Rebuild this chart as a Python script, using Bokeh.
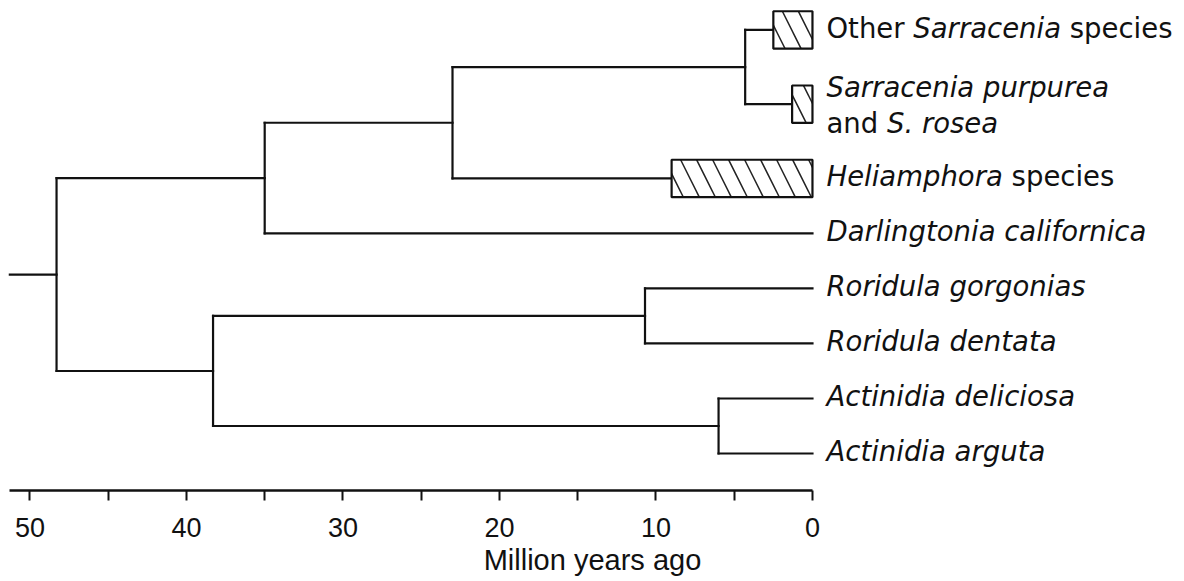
from bokeh.plotting import figure
from bokeh.models import Range1d, FixedTicker
from bokeh.core.properties import value
from bokeh.embed import file_html
from bokeh.resources import INLINE

# ---------------- data ----------------
node_names = ["root", "core", "sar_hel", "sarracenia", "lower", "roridula", "actinidia"]
node_ages = [48.3, 35.0, 23.0, 4.3, 38.3, 10.7, 6.0]
node_parent = [None, "root", "core", "sar_hel", "root", "lower", "lower"]
root_stem_age = 51.3

leaf_names = ["Other Sarracenia species", "Sarracenia purpurea and S. rosea",
              "Heliamphora species", "Darlingtonia californica",
              "Roridula gorgonias", "Roridula dentata",
              "Actinidia deliciosa", "Actinidia arguta"]
leaf_parent = ["sarracenia", "sarracenia", "sar_hel", "core",
               "roridula", "roridula", "actinidia", "actinidia"]
leaf_rows = [7.7, 6.35, 5.0, 4.0, 3.0, 2.0, 1.0, 0.0]
leaf_crown_age = [2.5, 1.3, 9.0, 0.0, 0.0, 0.0, 0.0, 0.0]  # hatched crown boxes

# label pieces: (text, style, line)
label_parts = [
    [("Other ", "normal", 0), ("Sarracenia", "italic", 0), (" species", "normal", 0)],
    [("Sarracenia purpurea", "italic", 0), ("and ", "normal", 1), ("S. rosea", "italic", 1)],
    [("Heliamphora", "italic", 0), (" species", "normal", 0)],
    [("Darlingtonia californica", "italic", 0)],
    [("Roridula gorgonias", "italic", 0)],
    [("Roridula dentata", "italic", 0)],
    [("Actinidia deliciosa", "italic", 0)],
    [("Actinidia arguta", "italic", 0)],
]

major_ticks = [0, 10, 20, 30, 40, 50]
minor_ticks = [5, 15, 25, 35, 45]
x_label = "Million years ago"

# ---------------- tree geometry ----------------
age = dict(zip(node_names, node_ages))
children = {n: [] for n in node_names}
for n, par in zip(node_names, node_parent):
    if par is not None:
        children[par].append(("node", n))
for i, par in enumerate(leaf_parent):
    children[par].append(("leaf", i))

ypos = {}
def node_y(n):
    ys = []
    for kind, c in children[n]:
        ys.append(leaf_rows[c] if kind == "leaf" else node_y(c))
    ypos[n] = (min(ys), max(ys), (min(ys) + max(ys)) / 2)
    return ypos[n][2]
node_y("root")

x0, y0, x1, y1 = [], [], [], []
# root stem
x0.append(root_stem_age); x1.append(age["root"]); y0.append(ypos["root"][2]); y1.append(ypos["root"][2])
for n, par in zip(node_names, node_parent):
    lo, hi, mid = ypos[n]
    x0.append(age[n]); x1.append(age[n]); y0.append(lo); y1.append(hi)
    if par is not None:
        x0.append(age[par]); x1.append(age[n]); y0.append(mid); y1.append(mid)
for i, par in enumerate(leaf_parent):
    x0.append(age[par]); x1.append(leaf_crown_age[i]); y0.append(leaf_rows[i]); y1.append(leaf_rows[i])

# ---------------- figure ----------------
p = figure(frame_width=1168, frame_height=482, output_backend="svg", toolbar_location=None,
           x_range=Range1d(51.37, -23.26), y_range=Range1d(-0.673, 8.09),
           min_border_left=8, min_border_right=0, min_border_top=8, min_border_bottom=0,
           y_axis_location=None)
p.outline_line_color = None
p.grid.visible = False
p.background_fill_color = "white"

p.segment(x0=x0, y0=y0, x1=x1, y1=y1, line_color="#111111", line_width=2.2, line_cap="square")

bx_l, bx_r, bx_t, bx_b = [], [], [], []
for i, ca in enumerate(leaf_crown_age):
    if ca > 0:
        bx_l.append(ca); bx_r.append(0); bx_t.append(leaf_rows[i] + 0.34); bx_b.append(leaf_rows[i] - 0.34)
p.quad(left=bx_l, right=bx_r, top=bx_t, bottom=bx_b, fill_color="white",
       line_color="#111111", line_width=2.2, hatch_pattern="\\", hatch_scale=32,
       hatch_weight=1.5, hatch_color="#222222")

# DejaVu Sans advance widths (units of 1/2048 em)
W = {' ': 651, 'a': 1255, 'c': 1126, 'd': 1300, 'e': 1260, 'f': 721, 'g': 1300, 'h': 1298,
     'i': 569, 'l': 569, 'm': 1995, 'n': 1298, 'o': 1253, 'p': 1300, 'r': 842, 's': 1067,
     't': 803, 'u': 1298, 'y': 1212, '.': 651, 'O': 1612, 'S': 1300, 'H': 1540, 'D': 1577,
     'R': 1423, 'A': 1401}
FS = 27.5
def tw(s):
    return sum(W.get(ch, 1200) for ch in s) / 2048 * FS

for i, parts in enumerate(label_parts):
    nlines = max(pp[2] for pp in parts) + 1
    offs = {0: 0.0, 1: 0.0}
    for txt, style, line in parts:
        if nlines == 1:
            yo = -2
        else:
            yo = -17 if line == 0 else 19
        lead = len(txt) - len(txt.lstrip(" "))
        core = txt.strip(" ")
        p.text(x=[0], y=[leaf_rows[i]], text=[core], x_offset=14 + offs[line] + tw(" " * lead),
               y_offset=yo,
               text_font=value("DejaVu Sans"), text_font_size=f"{FS}px",
               text_font_style=style, text_baseline="alphabetic", text_align="left",
               text_color="#111111")
        offs[line] += tw(txt)

ax = p.xaxis[0]
ax.ticker = FixedTicker(ticks=major_ticks, minor_ticks=minor_ticks)
ax.bounds = (0, root_stem_age)
ax.axis_line_width = 2.5
ax.axis_line_color = "#111111"
ax.major_tick_line_width = 2
ax.minor_tick_line_width = 2
ax.major_tick_line_color = "#111111"
ax.minor_tick_line_color = "#111111"
ax.major_tick_out = 10
ax.major_tick_in = 0
ax.minor_tick_out = 10
ax.minor_tick_in = 0
ax.major_label_text_font = "Liberation Sans"
ax.major_label_text_font_size = "27px"
ax.major_label_text_color = "#111111"
ax.major_label_standoff = 17
ax.axis_label = x_label
ax.axis_label_text_font = "Liberation Sans"
ax.axis_label_text_font_size = "29px"
ax.axis_label_text_font_style = "normal"
ax.axis_label_text_color = "#111111"
ax.axis_label_standoff = 4

open("out.html", "w").write(file_html(p, INLINE))
